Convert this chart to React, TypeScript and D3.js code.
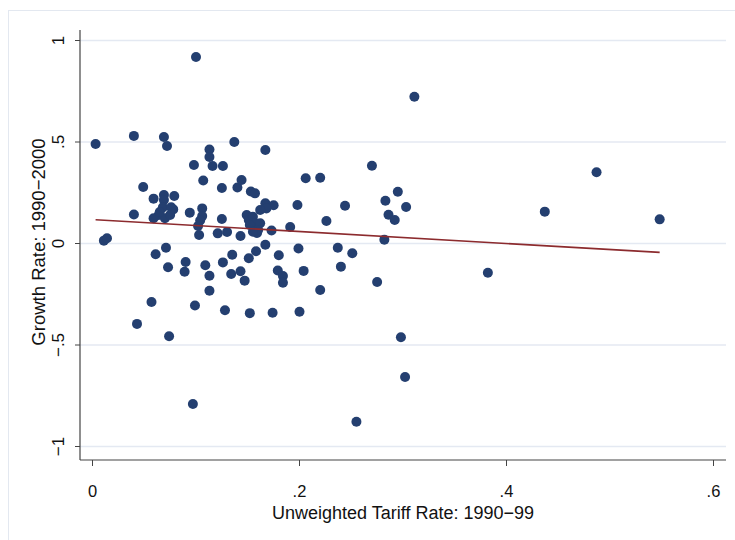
import React from "react";
import * as d3 from "d3";

// tariff rate (x) and growth rate (y)
const tariff = [
  0.1, 0.003, 0.04, 0.069, 0.072, 0.098, 0.113, 0.113, 0.116, 0.126,
  0.137, 0.167, 0.107, 0.049, 0.125, 0.14, 0.144, 0.153, 0.157, 0.059,
  0.069, 0.079, 0.04, 0.078, 0.094, 0.106, 0.106, 0.104, 0.102, 0.103,
  0.121, 0.13, 0.125, 0.143, 0.159, 0.173, 0.011, 0.014, 0.061, 0.071,
  0.073, 0.09, 0.089, 0.109, 0.113, 0.126, 0.135, 0.134, 0.143, 0.147,
  0.151, 0.158, 0.167, 0.18, 0.179, 0.184, 0.184, 0.113, 0.057, 0.099,
  0.128, 0.152, 0.174, 0.2, 0.043, 0.074, 0.097, 0.255, 0.311, 0.27,
  0.206, 0.22, 0.295, 0.283, 0.303, 0.198, 0.244, 0.286, 0.292, 0.226,
  0.191, 0.282, 0.199, 0.237, 0.251, 0.24, 0.204, 0.22, 0.275, 0.382,
  0.487, 0.437, 0.548, 0.298, 0.302, 0.069, 0.068, 0.076, 0.064, 0.07,
  0.059, 0.075, 0.065, 0.149, 0.151, 0.155, 0.157, 0.162, 0.152, 0.16,
  0.167, 0.175, 0.168, 0.162, 0.155,
];
const growth = [
  0.919, 0.49, 0.53, 0.525, 0.48, 0.387, 0.463, 0.426, 0.382, 0.382,
  0.5, 0.461, 0.31, 0.278, 0.273, 0.276, 0.313, 0.256, 0.247, 0.221,
  0.239, 0.234, 0.143, 0.168, 0.152, 0.173, 0.135, 0.113, 0.086, 0.042,
  0.05, 0.057, 0.121, 0.037, 0.052, 0.064, 0.014, 0.026, -0.053, -0.021,
  -0.117, -0.091, -0.139, -0.107, -0.159, -0.093, -0.055, -0.15, -0.137, -0.183,
  -0.073, -0.038, -0.006, -0.058, -0.133, -0.16, -0.193, -0.233, -0.288, -0.305,
  -0.329, -0.343, -0.341, -0.336, -0.396, -0.457, -0.791, -0.878, 0.723, 0.383,
  0.321, 0.324, 0.255, 0.211, 0.18, 0.19, 0.186, 0.142, 0.116, 0.111,
  0.081, 0.019, -0.025, -0.021, -0.048, -0.114, -0.135, -0.229, -0.19, -0.144,
  0.351, 0.157, 0.119, -0.462, -0.658, 0.214, 0.178, 0.178, 0.14, 0.124,
  0.124, 0.14, 0.155, 0.14, 0.116, 0.132, 0.1, 0.1, 0.091, 0.067,
  0.198, 0.188, 0.173, 0.165, 0.058,
];

// fitted line (linear fit shown on the chart)
const fitIntercept = 0.118;
const fitSlope = -0.295;

const xTicks = [0, 0.2, 0.4, 0.6];
const xTickLabels = ["0", ".2", ".4", ".6"];
const yTicks = [1, 0.5, 0, -0.5, -1];
const yTickLabels = ["1", ".5", "0", "\u2212.5", "\u22121"];

const xTitle = "Unweighted Tariff Rate: 1990\u221299";
const yTitle = "Growth Rate: 1990\u22122000";

export default function App() {
  const W = 735, H = 540;
  const left = 80, right = 726, top = 30, bottom = 460;

  const x = d3.scaleLinear().domain([0, 0.6]).range([92.5, 713.5]);
  const y = d3.scaleLinear().domain([-1, 1]).range([446.5, 40.5]);

  const pts = tariff.map((t, i) => [t, growth[i]]);
  const xr = d3.extent(tariff) as [number, number];
  const fit = d3.line<number>()
    .x((d) => x(d))
    .y((d) => y(fitIntercept + fitSlope * d));

  const font = "Liberation Sans, Arial, sans-serif";

  return (
    <svg width={W} height={H} style={{ position: "absolute", left: 0, top: 0, background: "#fff" }}>
      <rect x={8.5} y={10.5} width={740} height={540} fill="none" stroke="#e3e8f0" strokeWidth={1} />

      {yTicks.map((t) => (
        <line key={"g" + t} x1={left} x2={right} y1={y(t)} y2={y(t)} stroke="#e4e9f2" strokeWidth={1.5} />
      ))}

      {pts.map((p, i) => (
        <circle key={i} cx={x(p[0])} cy={y(p[1])} r={5} fill="#243f70" />
      ))}

      <path d={fit(xr) || ""} fill="none" stroke="#8c2b2e" strokeWidth={1.6} />

      <line x1={left} x2={left} y1={top} y2={bottom} stroke="#444" strokeWidth={1.2} />
      <line x1={left} x2={right} y1={bottom} y2={bottom} stroke="#444" strokeWidth={1.2} />

      {yTicks.map((t, i) => (
        <g key={"y" + t}>
          <line x1={left - 5} x2={left} y1={y(t)} y2={y(t)} stroke="#444" strokeWidth={1} />
          <text
            transform={`translate(64,${y(t)}) rotate(-90)`}
            textAnchor="middle"
            fontFamily={font}
            fontSize={17}
            fill="#111"
          >
            {yTickLabels[i]}
          </text>
        </g>
      ))}

      {xTicks.map((t, i) => (
        <g key={"x" + t}>
          <line x1={x(t)} x2={x(t)} y1={bottom} y2={bottom + 6} stroke="#444" strokeWidth={1} />
          <text x={x(t)} y={497} textAnchor="middle" fontFamily={font} fontSize={16.5} fill="#111">
            {xTickLabels[i]}
          </text>
        </g>
      ))}

      <text x={403} y={519} textAnchor="middle" fontFamily={font} fontSize={18} fill="#111">
        {xTitle}
      </text>
      <text
        transform={`translate(45,242) rotate(-90)`}
        textAnchor="middle"
        fontFamily={font}
        fontSize={18.5}
        fill="#111"
      >
        {yTitle}
      </text>
    </svg>
  );
}
